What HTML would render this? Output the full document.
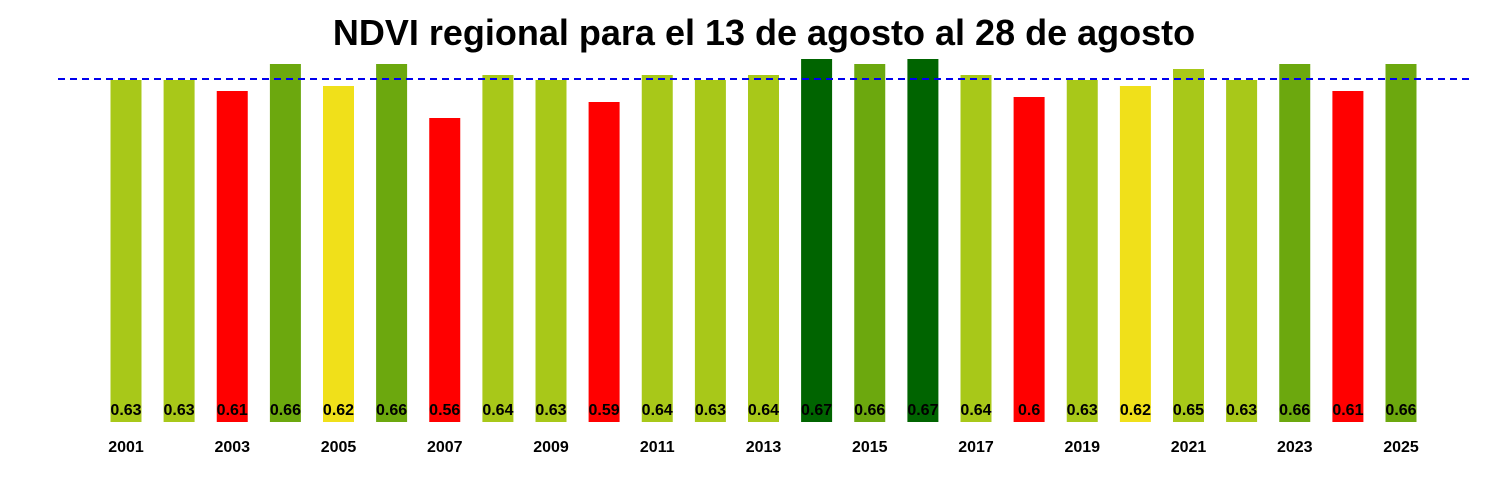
<!DOCTYPE html>
<html><head><meta charset="utf-8"><style>
html,body{margin:0;padding:0;background:#fff;}
svg{display:block;}
text{font-family:"Liberation Sans",Arial,sans-serif;font-weight:bold;}
</style></head><body>
<svg width="1500" height="500" xmlns="http://www.w3.org/2000/svg">
<text x="764" y="45" font-size="36" text-anchor="middle">NDVI regional para el 13 de agosto al 28 de agosto</text>
<g>
<rect x="110.5" y="80" width="31" height="342" fill="#a8c819"/>
<rect x="163.6" y="80" width="31" height="342" fill="#a8c819"/>
<rect x="216.75" y="91" width="31" height="331" fill="#ff0000"/>
<rect x="269.9" y="64" width="31" height="358" fill="#6ca80e"/>
<rect x="323" y="86" width="31" height="336" fill="#f0e01a"/>
<rect x="376.1" y="64" width="31" height="358" fill="#6ca80e"/>
<rect x="429.25" y="118" width="31" height="304" fill="#ff0000"/>
<rect x="482.4" y="75" width="31" height="347" fill="#a8c819"/>
<rect x="535.5" y="80" width="31" height="342" fill="#a8c819"/>
<rect x="588.6" y="102" width="31" height="320" fill="#ff0000"/>
<rect x="641.75" y="75" width="31" height="347" fill="#a8c819"/>
<rect x="694.9" y="80" width="31" height="342" fill="#a8c819"/>
<rect x="748" y="75" width="31" height="347" fill="#a8c819"/>
<rect x="801.1" y="59" width="31" height="363" fill="#006400"/>
<rect x="854.25" y="64" width="31" height="358" fill="#6ca80e"/>
<rect x="907.4" y="59" width="31" height="363" fill="#006400"/>
<rect x="960.5" y="75" width="31" height="347" fill="#a8c819"/>
<rect x="1013.6" y="97" width="31" height="325" fill="#ff0000"/>
<rect x="1066.75" y="80" width="31" height="342" fill="#a8c819"/>
<rect x="1119.9" y="86" width="31" height="336" fill="#f0e01a"/>
<rect x="1173" y="69" width="31" height="353" fill="#a8c819"/>
<rect x="1226.1" y="80" width="31" height="342" fill="#a8c819"/>
<rect x="1279.25" y="64" width="31" height="358" fill="#6ca80e"/>
<rect x="1332.4" y="91" width="31" height="331" fill="#ff0000"/>
<rect x="1385.5" y="64" width="31" height="358" fill="#6ca80e"/>
</g>
<g font-size="16" text-anchor="middle">
<text x="126" y="415">0.63</text>
<text x="179.1" y="415">0.63</text>
<text x="232.25" y="415">0.61</text>
<text x="285.4" y="415">0.66</text>
<text x="338.5" y="415">0.62</text>
<text x="391.6" y="415">0.66</text>
<text x="444.75" y="415">0.56</text>
<text x="497.9" y="415">0.64</text>
<text x="551" y="415">0.63</text>
<text x="604.1" y="415">0.59</text>
<text x="657.25" y="415">0.64</text>
<text x="710.4" y="415">0.63</text>
<text x="763.5" y="415">0.64</text>
<text x="816.6" y="415">0.67</text>
<text x="869.75" y="415">0.66</text>
<text x="922.9" y="415">0.67</text>
<text x="976" y="415">0.64</text>
<text x="1029.1" y="415">0.6</text>
<text x="1082.25" y="415">0.63</text>
<text x="1135.4" y="415">0.62</text>
<text x="1188.5" y="415">0.65</text>
<text x="1241.6" y="415">0.63</text>
<text x="1294.75" y="415">0.66</text>
<text x="1347.9" y="415">0.61</text>
<text x="1401" y="415">0.66</text>
</g>
<g font-size="16" text-anchor="middle">
<text x="126" y="452">2001</text>
<text x="232.25" y="452">2003</text>
<text x="338.5" y="452">2005</text>
<text x="444.75" y="452">2007</text>
<text x="551" y="452">2009</text>
<text x="657.25" y="452">2011</text>
<text x="763.5" y="452">2013</text>
<text x="869.75" y="452">2015</text>
<text x="976" y="452">2017</text>
<text x="1082.25" y="452">2019</text>
<text x="1188.5" y="452">2021</text>
<text x="1294.75" y="452">2023</text>
<text x="1401" y="452">2025</text>
</g>
<line x1="58" y1="79" x2="1470" y2="79" stroke="#0000ee" stroke-width="2" stroke-dasharray="7,5"/>
</svg>
</body></html>
